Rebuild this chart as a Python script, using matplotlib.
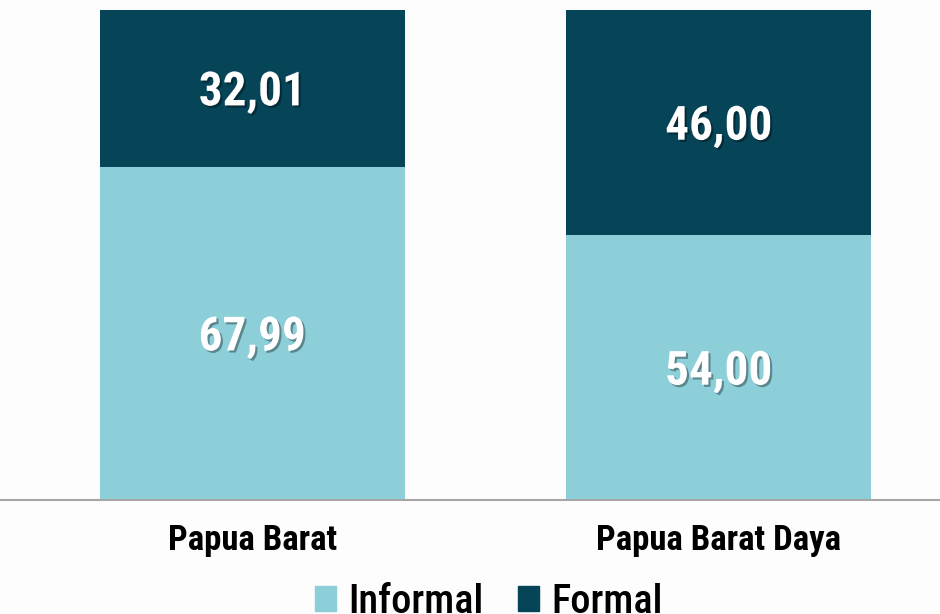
import matplotlib.pyplot as plt
import matplotlib.patheffects as pe
from matplotlib.patches import Patch

# Data
regions = ['Papua Barat', 'Papua Barat Daya']
informal = [67.99, 54.00]
formal = [32.01, 46.00]

c_informal = '#8CCFD9'
c_formal = '#064457'

plt.rcParams['font.family'] = ['Roboto Condensed', 'Fira Sans Condensed', 'Liberation Sans', 'DejaVu Sans']

fig = plt.figure(figsize=(9.4, 6.14), dpi=100)
fig.patch.set_facecolor('#FDFDFD')
ax = fig.add_axes([0, 114 / 614, 1, 490 / 614])
ax.set_facecolor('none')

x = range(len(regions))
ax.bar(x, informal, width=0.654, color=c_informal, label='Informal')
ax.bar(x, formal, width=0.654, bottom=informal, color=c_formal, label='Formal')

# value labels, white with a soft shadow
shadow = [pe.SimplePatchShadow(offset=(1.5, -1.5), shadow_rgbFace='black', alpha=0.35), pe.Normal()]
for i in x:
    for val, mid in [(informal[i], informal[i] / 2), (formal[i], informal[i] + formal[i] / 2)]:
        ax.annotate(f'{val:.2f}'.replace('.', ','), (i, mid), xytext=(0, -4), textcoords='offset pixels',
                    ha='center', va='center', color='white', fontsize=34, fontweight='bold',
                    path_effects=shadow)

ax.set_xlim(-0.541, 1.474)
ax.set_ylim(0, 100)
ax.set_xticks(list(x))
ax.set_xticklabels(regions, fontsize=25, fontweight='semibold')
ax.tick_params(axis='x', length=0, pad=17)
ax.set_yticks([])
for s in ['top', 'left', 'right']:
    ax.spines[s].set_visible(False)
ax.spines['bottom'].set_color('#A6A6A6')
ax.spines['bottom'].set_linewidth(1.5)

handles = [Patch(color=c_informal, label='Informal'), Patch(color=c_formal, label='Formal')]
fig.legend(handles=handles, loc='center', bbox_to_anchor=(0.52, 0.02), ncol=2, frameon=False,
           prop={'size': 29, 'weight': 'medium'}, handlelength=0.52, handleheight=0.57,
           handletextpad=0.3, columnspacing=0.85)

fig.savefig('out.png', dpi=100, facecolor=fig.get_facecolor())
